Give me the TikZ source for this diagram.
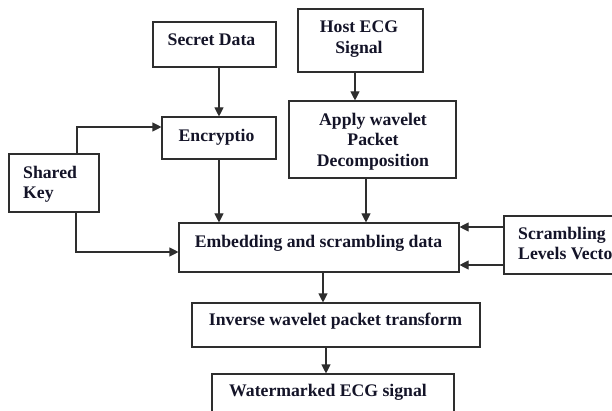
\documentclass[tikz,border=0pt]{standalone}
\usepackage{fontspec}
\setmainfont{Liberation Serif}
\usetikzlibrary{arrows.meta}
\definecolor{linec}{HTML}{2E2E2E}
\definecolor{txtc}{HTML}{141428}
\tikzset{
  box/.style={draw=linec, line width=1.1pt, inner sep=0pt},
  lbl/.style={text=txtc, inner sep=0pt, font=\bfseries\fontsize{17.7}{20.8}\selectfont},
  arr/.style={draw=linec, line width=1.1pt, -{Triangle[length=9pt,width=9pt]}},
  ln/.style={draw=linec, line width=1.1pt}
}
\begin{document}
\begin{tikzpicture}[x=1pt,y=-1pt]
\clip (0,0) rectangle (612,411);
\fill[white] (0,0) rectangle (612,411);
% boxes
\node[box, minimum width=123pt, minimum height=45pt] (sd) at (214.5,44.5) {};
\node[box, minimum width=125pt, minimum height=63pt] (host) at (360.5,40.5) {};
\node[box, minimum width=167pt, minimum height=77pt] (apply) at (372.5,139.5) {};
\node[box, minimum width=114pt, minimum height=42pt] (enc) at (219,138) {};
\node[box, minimum width=90pt, minimum height=58pt] (key) at (54,183) {};
\node[box, minimum width=280pt, minimum height=49pt] (emb) at (319,247.5) {};
\node[box, minimum width=136pt, minimum height=58pt] (scr) at (572,245) {};
\node[box, minimum width=288pt, minimum height=44pt] (inv) at (336,325) {};
\node[box, minimum width=242pt, minimum height=56pt] (wm) at (333,402) {};
% texts (multi-line texts anchored at the baseline of their last line)
\node[lbl, anchor=base] (tsd) at (211.5,45.7) {Secret Data};
\node[lbl, anchor=base] (tenc) at (216.5,141.7) {Encryptio};
\node[lbl, anchor=base west, align=left] (tkey) at (23,199) {Shared\\Key};
\node[lbl, anchor=base, align=center] (thost) at (359,53.3) {Host ECG\\Signal};
\node[lbl, anchor=base, align=center] (tapply) at (373,166.7) {Apply wavelet\\Packet\\Decomposition};
\node[lbl, anchor=base] (temb) at (318.5,247.7) {Embedding and scrambling data};
\node[lbl, anchor=base west, align=left] (tscr) at (518,260) {Scrambling\\Levels Vector};
\node[lbl, anchor=base] (tinv) at (335.5,325.7) {Inverse wavelet packet transform};
\node[lbl, anchor=base] (twm) at (328,396.7) {Watermarked ECG signal};
% helper coordinates
\coordinate (hx) at (355,0);
\coordinate (ax) at (366,0);
\coordinate (kx) at (77,127);
\coordinate (kb) at (76,252);
\coordinate (s1) at (0,227);
\coordinate (s2) at (0,265);
\coordinate (ex) at (323,0);
\coordinate (ix) at (326,0);
% connectors
\draw[arr] (sd.south -| enc.north) -- (enc.north);
\draw[arr] (host.south -| hx) -- (apply.north -| hx);
\draw[arr] (key.north -| kx) -- (kx) -- (enc.west |- kx);
\draw[arr] (key.south -| kb) -- (kb) -- (emb.west |- kb);
\draw[arr] (enc.south) -- (emb.north -| enc.south);
\draw[arr] (apply.south -| ax) -- (emb.north -| ax);
\draw[arr] (scr.west |- s1) -- (emb.east |- s1);
\draw[arr] (scr.west |- s2) -- (emb.east |- s2);
\draw[arr] (emb.south -| ex) -- (inv.north -| ex);
\draw[arr] (inv.south -| ix) -- (wm.north -| ix);
\end{tikzpicture}
\end{document}
